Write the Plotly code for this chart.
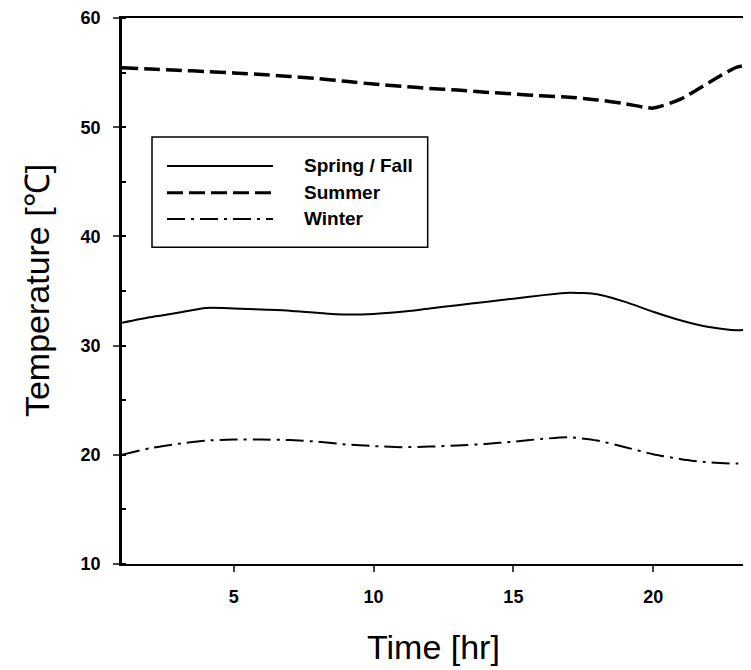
import plotly.graph_objects as go

hours = list(range(1, 25))
spring_fall = [32.1, 32.6, 33.0, 33.45, 33.4, 33.3, 33.2, 33.0, 32.85, 32.9, 33.1, 33.4,
               33.7, 34.0, 34.3, 34.6, 34.85, 34.7, 34.0, 33.1, 32.3, 31.7, 31.4, 31.6]
summer = [55.45, 55.33, 55.22, 55.1, 54.97, 54.82, 54.65, 54.45, 54.2, 53.95, 53.75, 53.55,
          53.4, 53.2, 53.05, 52.87, 52.75, 52.5, 52.15, 51.75, 52.6, 54.1, 55.5, 55.9]
winter = [20.0, 20.6, 21.0, 21.3, 21.4, 21.4, 21.35, 21.2, 20.95, 20.8, 20.7, 20.75,
          20.85, 21.0, 21.2, 21.45, 21.6, 21.3, 20.7, 20.05, 19.6, 19.3, 19.2, 19.3]

series_names = ["Spring / Fall", "Summer", "Winter"]
x_ticks = [5, 10, 15, 20]
y_ticks = [10, 20, 30, 40, 50, 60]

FONT = "Liberation Sans, Arial, sans-serif"
styles = {
    "Spring / Fall": dict(color="black", width=2, dash="solid"),
    "Summer": dict(color="black", width=3.5, dash="16px,6px"),
    "Winter": dict(color="black", width=2, dash="18px,6px,3px,6px"),
}

fig = go.Figure()
for name, vals in zip(series_names, [spring_fall, summer, winter]):
    fig.add_trace(go.Scatter(x=hours, y=vals, mode="lines", name=name,
                             line=dict(**styles[name], shape="spline", smoothing=0.6),
                             showlegend=False))

# manual legend (box, sample lines, labels) in paper coordinates
lx0, lx1 = 0.0477, 0.486
ly0, ly1 = 0.58, 0.782
shapes = [dict(type="rect", xref="paper", yref="paper", x0=lx0, x1=lx1, y0=ly0, y1=ly1,
               line=dict(color="black", width=1.5), fillcolor="white", layer="below")]
row_y = [0.729, 0.680, 0.632]
annotations = []
for name, ry in zip(series_names, row_y):
    st = styles[name]
    shapes.append(dict(type="line", xref="paper", yref="paper", x0=0.0715, x1=0.24, y0=ry, y1=ry,
                       line=dict(color="black", width=min(st["width"], 3), dash=st["dash"])))
    annotations.append(dict(text=name, xref="paper", yref="paper", x=0.286, y=ry,
                            xanchor="left", yanchor="middle", showarrow=False,
                            font=dict(family=FONT, size=19, color="black", weight="bold")))

# axis titles
annotations.append(dict(text="Temperature [℃]", xref="paper", yref="paper", x=-0.135, y=0.5,
                        xanchor="center", yanchor="middle", textangle=-90, showarrow=False,
                        font=dict(family=FONT, size=34, color="black")))
annotations.append(dict(text="Time [hr]", xref="paper", yref="paper", x=0.495, y=-0.1514,
                        xanchor="center", yanchor="middle", showarrow=False,
                        font=dict(family=FONT, size=34, color="black")))

fig.update_layout(
    width=743, height=662,
    margin=dict(l=114, r=0, t=6, b=106),
    plot_bgcolor="white", paper_bgcolor="white",
    shapes=shapes, annotations=annotations,
    xaxis=dict(range=[1, 23.5], tickvals=x_ticks, ticks="outside", ticklen=6, tickwidth=1.5,
               showline=True, linecolor="black", linewidth=2, mirror=True, showgrid=False,
               zeroline=False, ticklabelstandoff=9, ticklabeloverflow="allow",
               tickfont=dict(family=FONT, size=18, color="black", weight="bold")),
    yaxis=dict(range=[10, 60], tickvals=y_ticks, ticks="outside", ticklen=6, tickwidth=1.5,
               showline=True, linecolor="black", linewidth=2.5, showgrid=False, zeroline=False,
               ticklabelstandoff=9, ticklabeloverflow="allow",
               minor=dict(dtick=5, ticks="inside", ticklen=4, tickcolor="black"),
               tickfont=dict(family=FONT, size=18, color="black", weight="bold")),
)

fig.write_html("out.html")
